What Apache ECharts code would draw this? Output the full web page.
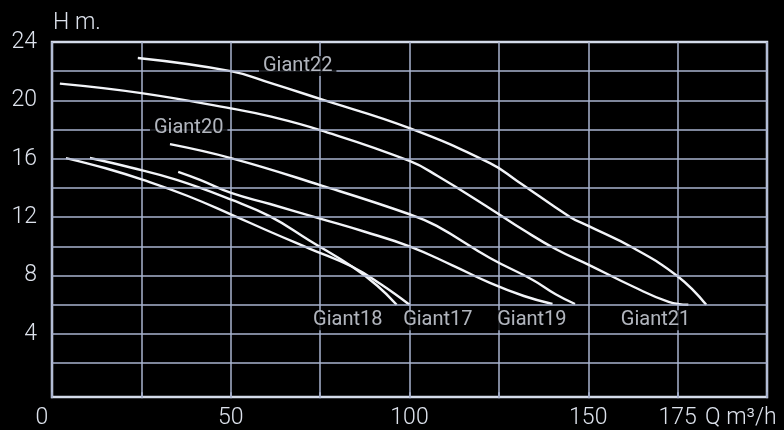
<!DOCTYPE html>
<html><head><meta charset="utf-8">
<script src="https://cdn.jsdelivr.net/npm/echarts@6/dist/echarts.min.js"></script>
<style>html,body{margin:0;padding:0;background:#000}#c{width:784px;height:430px}</style>
</head><body><div id="c"></div>
<script>
// Q (m3/h), H (m)
const giant22 = [[24,22.9],[50,22.0],[61,21.2],[75,20.1],[100,18.1],[122.5,15.7],[130,14.5],[145,12.0],[150,11.4],[162.5,9.9],[175,7.95],[183,6.0]];
const giant21 = [[2.2,21.15],[25,20.5],[50,19.45],[61,18.9],[75,17.96],[100,15.85],[108,14.8],[122.5,12.6],[132,11.1],[141,9.8],[150,8.75],[162.5,7.25],[172.5,6.2],[178,6.0]];
const giant20 = [[33,17.0],[50.3,16.03],[75,14.2],[100,12.2],[107.6,11.4],[122.5,9.2],[134.5,7.7],[141,6.7],[146.3,6.05]];
const giant19 = [[35.3,15.1],[41.4,14.55],[50.3,13.64],[61,12.9],[75,11.9],[87.5,11.0],[100,10.0],[112,8.7],[122.5,7.5],[132,6.6],[140,6.05]];
const giant17 = [[3.9,16.05],[15,15.35],[25.5,14.55],[38,13.45],[50.3,12.16],[61,11.0],[72,9.85],[84,8.6],[92,7.4],[100,6.0]];
const giant18 = [[10.6,16.05],[22,15.4],[34.9,14.55],[50.3,13.18],[61,12.05],[72,10.4],[84,8.6],[91,7.3],[96.4,6.0]];
const seriesNames = ['Giant22','Giant21','Giant20','Giant19','Giant17','Giant18'];
const seriesData = [giant22, giant21, giant20, giant19, giant17, giant18];

const labelNames = ['Giant22','Giant20','Giant18','Giant17','Giant19','Giant21'];
const labelQ = [57.9, 27.4, 71.9, 97.1, 123.4, 158];
const labelH = [22.36, 18.09, 4.94, 4.94, 4.94, 4.94];

const xLabelValues = [0,50,100,150,175];
const yLabelValues = [4,8,12,16,20,24];
const hGridValues = [2,4,6,8,10,12,14,16,18,20,22];

const gridCol = '#a9b3cf';
const textCol = '#dde2ec';
const chart = echarts.init(document.getElementById('c'), null, {renderer:'canvas'});

const series = [{
  type:'line', data:[], silent:true, z:1,
  markLine:{silent:true, symbol:'none', label:{show:false},
    lineStyle:{color:gridCol, width:1.5, type:'solid'},
    data: hGridValues.map(v=>({yAxis:v}))}
}];
seriesData.forEach((d,i)=>{
  series.push({type:'line', name:seriesNames[i], data:d, smooth:0.45,
    showSymbol:false, symbol:'none', z:3,
    lineStyle:{color:'#f2f4f8', width:2.4}});
});
series.push({type:'scatter', symbolSize:0, z:5,
  data: labelNames.map((n,i)=>[labelQ[i], labelH[i], n]),
  label:{show:true, position:'right', distance:0, formatter:p=>p.data[2],
    color:textCol, fontFamily:'Roboto', fontWeight:400,
    fontSize:20, backgroundColor:'#000', padding:[0,4,0,4]}});

chart.setOption({
  backgroundColor:'#000',
  animation:false,
  grid:{left:52, right:17, top:42, bottom:32, show:true, borderColor:'#d4dbea', borderWidth:2.5, backgroundColor:'transparent'},
  xAxis:{type:'value', min:0, max:200, interval:25,
    axisLine:{show:false},
    axisTick:{show:true, length:6, lineStyle:{color:gridCol, width:1.5}},
    splitLine:{show:true, lineStyle:{color:gridCol, width:1.5}},
    axisLabel:{customValues:xLabelValues, margin:10, color:textCol, fontFamily:'Roboto', fontWeight:300, fontSize:23,
      formatter:v=> v===0 ? '{z|0}' : String(v),
      rich:{z:{padding:[0,20,0,0], fontFamily:'Roboto', fontWeight:300, fontSize:23, color:textCol}}}},
  yAxis:{type:'value', min:-0.32, max:24,
    axisLine:{show:false}, axisTick:{show:false}, splitLine:{show:false},
    axisLabel:{customValues:yLabelValues, margin:15, color:textCol, fontFamily:'Roboto', fontWeight:300, fontSize:23}},
  graphic:[
    {type:'text', left:53, top:12, style:{text:'H m.', fill:textCol, font:'300 23px Roboto'}},
    {type:'text', left:705, top:407, style:{text:'Q m³/h', fill:textCol, font:'300 23px Roboto'}}
  ],
  series: series
});
</script></body></html>
